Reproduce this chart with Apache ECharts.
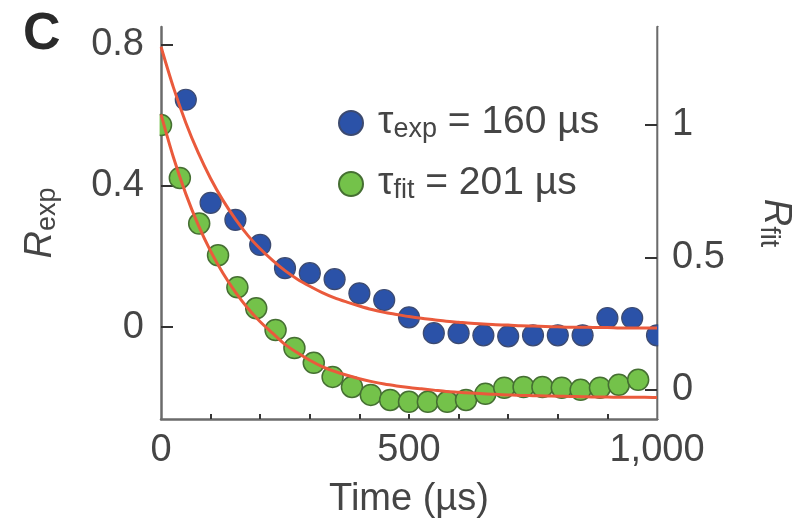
<!DOCTYPE html>
<html>
<head>
<meta charset="utf-8">
<script src="https://cdn.jsdelivr.net/npm/echarts@6/dist/echarts.min.js"></script>
<style>html,body{margin:0;padding:0;background:#fff;}#c{width:795px;height:518px;}</style>
</head>
<body>
<div id="c"></div>
<script>
// ---- data ----
const blueTime = [50,100,150,200,250,300,350,400,450,500,550,600,650,700,750,800,850,900,950,1000];
const blueR    = [0.644,0.352,0.304,0.233,0.167,0.153,0.136,0.096,0.077,0.028,-0.017,-0.017,-0.023,-0.026,-0.023,-0.023,-0.023,0.026,0.026,-0.023];
const greenTime = [0,38,77,115,154,192,231,269,308,346,385,423,462,500,538,577,615,654,692,731,769,808,846,885,923,962];
const greenR    = [1.0,0.80,0.628,0.508,0.387,0.308,0.226,0.158,0.102,0.049,0.011,-0.019,-0.038,-0.045,-0.045,-0.045,-0.038,-0.015,0.008,0.011,0.011,0.008,0.0,0.008,0.019,0.038];
const fitTime = [0,25,50,75,100,125,150,175,200,225,250,275,300,325,350,375,400,425,450,475,500,525,550,575,600,625,650,675,700,725,750,775,800,825,850,875,900,925,950,975,1000];
const fitExp  = [0.794,0.679,0.579,0.494,0.421,0.359,0.306,0.260,0.222,0.189,0.160,0.136,0.116,0.098,0.083,0.071,0.060,0.050,0.042,0.036,0.030,0.025,0.021,0.017,0.014,0.011,0.009,0.007,0.006,0.004,0.003,0.002,0.001,0.000,0.000,-0.001,-0.001,-0.002,-0.002,-0.002,-0.002];
const fitFit  = [1.040,0.878,0.740,0.623,0.524,0.440,0.369,0.308,0.257,0.214,0.172,0.140,0.112,0.088,0.070,0.055,0.042,0.031,0.022,0.015,0.009,0.004,-0.001,-0.006,-0.009,-0.012,-0.015,-0.017,-0.019,-0.021,-0.022,-0.023,-0.024,-0.025,-0.026,-0.027,-0.027,-0.028,-0.028,-0.028,-0.029];
const xTickLabels = [0,500,1000];
const xMinorTicks = [100,200,300,400,500,600,700,800,900];
const leftTicks = [0,0.4,0.8];
const rightTicks = [0,0.5,1];
const legendExp = ['exp','160'];
const legendFit = ['fit','201'];

const FONT = '"Liberation Sans", Arial, Helvetica, sans-serif';
const TXT = '#454545';
const AX = '#6b6b6b';
const pair = (xs, ys) => xs.map((x, i) => [x, ys[i]]);

const GRID = {left: 161, right: 138, top: 27, bottom: 99};
const W = 795, H = 518;

const richAxis = {
  r: {fontFamily: FONT, fontSize: 38, fontStyle: 'italic', color: TXT, lineHeight: 40, verticalAlign: 'top'},
  s: {fontFamily: FONT, fontSize: 27, color: TXT, lineHeight: 27, padding: [22,0,0,0], verticalAlign: 'bottom'}
};
const richLegend = {
  t: {fontFamily: FONT, fontSize: 39, color: TXT, lineHeight: 40, verticalAlign: 'top', padding: [0,0,0,10]},
  s: {fontFamily: FONT, fontSize: 27, color: TXT, lineHeight: 27, padding: [22,0,0,0], verticalAlign: 'bottom'},
  n: {fontFamily: FONT, fontSize: 39, color: TXT, lineHeight: 40, verticalAlign: 'top'}
};

const chart = echarts.init(document.getElementById('c'), null, {renderer: 'canvas'});
chart.setOption({
  animation: false,
  backgroundColor: '#fff',
  title: {text: 'C', left: 18, top: 4, textStyle: {fontFamily: FONT, fontSize: 52, fontWeight: 'bold', color: '#2a2a2a'}},
  grid: Object.assign({containLabel: false, outerBoundsMode: 'none'}, GRID),
  // white masks so that points sitting on the frame look half hidden, as in the reference
  graphic: [
    {type: 'rect', z: 50, silent: true, shape: {x: GRID.left - 13, y: GRID.top, width: 11.6, height: H - GRID.top - GRID.bottom}, style: {fill: '#fff'}},
    {type: 'rect', z: 50, silent: true, shape: {x: W - GRID.right + 1.4, y: GRID.top, width: 11, height: H - GRID.top - GRID.bottom}, style: {fill: '#fff'}}
  ],
  legend: {
    orient: 'vertical', left: 338, top: 94, padding: 0, itemWidth: 24, itemHeight: 24, itemGap: 12,
    icon: 'circle',
    data: ['exp','fit'],
    formatter: name => name === 'exp'
      ? '{t|τ}{s|' + legendExp[0] + '}{n| = ' + legendExp[1] + ' µs}'
      : '{t|τ}{s|' + legendFit[0] + '}{n| = ' + legendFit[1] + ' µs}',
    textStyle: {rich: richLegend}
  },
  xAxis: {
    type: 'value', min: 0, max: 1000,
    name: 'Time (µs)', nameLocation: 'middle', nameGap: 62,
    nameTextStyle: {fontFamily: FONT, fontSize: 38, color: TXT},
    axisLine: {show: true, onZero: false, lineStyle: {color: AX, width: 2.5}},
    axisTick: {show: true, inside: true, length: 5, customValues: xMinorTicks, lineStyle: {color: '#333', width: 2}},
    axisLabel: {customValues: xTickLabels, margin: 13, fontFamily: FONT, fontSize: 38, color: TXT,
      formatter: v => v >= 1000 ? '1,000' : String(v)},
    splitLine: {show: false}
  },
  yAxis: [{
    type: 'value', min: -0.26, max: 0.85, position: 'left',
    name: '{r|R}{s|exp}', nameLocation: 'middle', nameGap: 100, nameRotate: 90,
    nameTextStyle: {rich: richAxis},
    axisLine: {show: true, onZero: false, lineStyle: {color: AX, width: 2.5}},
    axisTick: {show: true, inside: true, length: 12, customValues: leftTicks, lineStyle: {color: '#333', width: 2}},
    axisLabel: {customValues: leftTicks, margin: 17, fontFamily: FONT, fontSize: 38, color: TXT, formatter: v => String(v)},
    splitLine: {show: false}
  }, {
    type: 'value', min: -0.11, max: 1.37, position: 'right',
    name: '{r|R}{s|fit}', nameLocation: 'middle', nameGap: 98, nameRotate: -90,
    nameTextStyle: {rich: richAxis},
    axisLine: {show: true, onZero: false, lineStyle: {color: AX, width: 2.5}},
    axisTick: {show: true, inside: true, length: 12, customValues: rightTicks, lineStyle: {color: '#333', width: 2}},
    axisLabel: {customValues: rightTicks, margin: 15, fontFamily: FONT, fontSize: 38, color: TXT, formatter: v => String(v)},
    splitLine: {show: false}
  }],
  series: [{
    name: 'exp', type: 'scatter', yAxisIndex: 0, symbolSize: 21, clip: true, z: 2,
    itemStyle: {color: '#2b52a8', borderColor: '#3c4a70', borderWidth: 1.2, opacity: 1},
    data: pair(blueTime, blueR)
  }, {
    name: 'fit', type: 'scatter', yAxisIndex: 1, symbolSize: 21, clip: true, z: 2,
    itemStyle: {color: '#74c24a', borderColor: '#456f32', borderWidth: 1.5, opacity: 1},
    data: pair(greenTime, greenR)
  }, {
    name: 'fitExpLine', type: 'line', yAxisIndex: 0, smooth: 0.3, showSymbol: false, clip: true, z: 3,
    lineStyle: {color: '#ea5a3c', width: 3}, data: pair(fitTime, fitExp)
  }, {
    name: 'fitFitLine', type: 'line', yAxisIndex: 1, smooth: 0.3, showSymbol: false, clip: true, z: 3,
    lineStyle: {color: '#ea5a3c', width: 3}, data: pair(fitTime, fitFit)
  }]
});
</script>
</body>
</html>
